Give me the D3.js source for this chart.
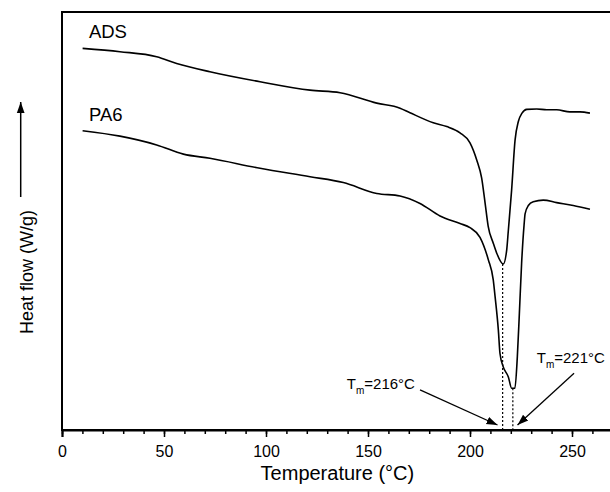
<!DOCTYPE html>
<html>
<head>
<meta charset="utf-8">
<script src="https://cdn.jsdelivr.net/npm/d3@7"></script>
<style>
  body { margin: 0; background: #fff; }
  text { font-family: "Liberation Sans", Arial, sans-serif; fill: #000; }
</style>
</head>
<body>
<script>
// temperature (°C) and heat flow (arbitrary units, shifted)
const adsTemp = [10.1, 28.4, 46.4, 56.2, 72.5, 97.1, 121.6, 136.3, 154.3, 165.7, 170.6, 182, 188.6, 195.1, 200, 203.3, 205.7, 207.4, 208.9, 211.4, 213.1, 216.3, 218, 218.8, 220.4, 222.1, 223.7, 225.5, 227.8, 232.7, 237.6, 242.5, 249, 253.9, 258.8];
const adsFlow = [9.13, 9.05, 8.93, 8.77, 8.57, 8.33, 8.13, 8.07, 7.82, 7.70, 7.59, 7.35, 7.26, 7.11, 6.87, 6.46, 6.03, 5.43, 4.88, 4.47, 4.23, 3.97, 4.31, 4.78, 5.74, 6.94, 7.38, 7.58, 7.67, 7.68, 7.66, 7.66, 7.61, 7.61, 7.58];

const pa6Temp = [10.1, 28.4, 46.4, 59.5, 72.5, 97.1, 121.6, 137.9, 154.3, 165.7, 175.5, 185.3, 195.1, 200, 204.9, 209, 211.4, 212.3, 213.9, 214.7, 216.3, 218.8, 220.4, 222, 223.2, 224.2, 225.3, 226.5, 227, 228.6, 231, 235.9, 242.5, 250.6, 258.8];
const pa6Flow = [7.16, 7.03, 6.82, 6.60, 6.50, 6.26, 6.06, 5.92, 5.66, 5.60, 5.42, 5.12, 4.94, 4.84, 4.61, 4.07, 3.59, 3.19, 2.39, 1.83, 1.51, 1.27, 1.00, 1.00, 1.75, 2.79, 3.99, 4.90, 5.17, 5.37, 5.46, 5.50, 5.44, 5.37, 5.28];

const seriesNames = ["ADS", "PA6"];
const meltTemps = [216, 221];
const meltFlow = [3.97, 1.00];
const majorTicks = [0, 50, 100, 150, 200, 250];
const minorTicks = d3.range(0, 271, 10);

const width = 610, height = 492;
const margin = {top: 12, right: 0, bottom: 62, left: 62};

const svg = d3.select("body").append("svg")
    .attr("width", width)
    .attr("height", height);

const x = d3.scaleLinear().domain([0, 270]).range([margin.left, margin.left + 270 * 2.04]);
const y = d3.scaleLinear().domain([0, 10]).range([height - margin.bottom, margin.top]);

// frame
svg.append("rect")
    .attr("x", x(0)).attr("y", y(10))
    .attr("width", x(270) - x(0)).attr("height", y(0) - y(10))
    .attr("fill", "none").attr("stroke", "#000").attr("stroke-width", 2);

// minor ticks
svg.append("g")
    .attr("transform", `translate(0,${y(0)})`)
    .call(d3.axisBottom(x).tickValues(minorTicks).tickSize(4).tickFormat(""))
    .call(g => g.select(".domain").remove())
    .call(g => g.selectAll("line").attr("stroke-width", 1.5));

// major ticks
svg.append("g")
    .attr("transform", `translate(0,${y(0)})`)
    .call(d3.axisBottom(x).tickValues(majorTicks).tickSize(7).tickPadding(9))
    .call(g => g.select(".domain").attr("stroke-width", 2))
    .call(g => g.selectAll("line").attr("stroke-width", 1.5))
    .call(g => g.selectAll("text")
        .attr("font-size", 16)
        .attr("font-family", "Liberation Sans, Arial, sans-serif"));

// axis titles
svg.append("text")
    .attr("x", (x(0) + x(270)) / 2)
    .attr("y", 480)
    .attr("text-anchor", "middle")
    .attr("font-size", 20)
    .text("Temperature (°C)");

svg.append("text")
    .attr("transform", "translate(33,272) rotate(-90)")
    .attr("text-anchor", "middle")
    .attr("font-size", 18)
    .text("Heat flow (W/g)");

const defs = svg.append("defs");
defs.append("marker")
    .attr("id", "head")
    .attr("viewBox", "0 0 10 10")
    .attr("refX", 10).attr("refY", 5)
    .attr("markerWidth", 11).attr("markerHeight", 11)
    .attr("markerUnits", "userSpaceOnUse")
    .attr("orient", "auto")
    .append("path")
    .attr("d", "M0,1.5 L10,5 L0,8.5 Z")
    .attr("fill", "#000");

// endo-up arrow next to the y title
svg.append("line")
    .attr("x1", 20.7).attr("y1", 197)
    .attr("x2", 20.7).attr("y2", 102)
    .attr("stroke", "#000").attr("stroke-width", 1.5)
    .attr("marker-end", "url(#head)");

// curves
const line = d3.line()
    .x(d => x(d[0]))
    .y(d => y(d[1]))
    .curve(d3.curveMonotoneX);

const curves = [
    d3.zip(adsTemp, adsFlow),
    d3.zip(pa6Temp, pa6Flow)
];

svg.selectAll("path.curve")
    .data(curves)
    .enter().append("path")
    .attr("class", "curve")
    .attr("d", line)
    .attr("fill", "none")
    .attr("stroke", "#000")
    .attr("stroke-width", 1.6);

// curve labels
svg.selectAll("text.name")
    .data(seriesNames)
    .enter().append("text")
    .attr("class", "name")
    .attr("x", x(13.2))
    .attr("y", (d, i) => y(curves[i][0][1]) - 10)
    .attr("font-size", 18.5)
    .text(d => d);

// dotted drop lines at the melting peaks
svg.selectAll("line.drop")
    .data(meltTemps)
    .enter().append("line")
    .attr("class", "drop")
    .attr("x1", d => x(d)).attr("x2", d => x(d))
    .attr("y1", (d, i) => y(meltFlow[i]))
    .attr("y2", y(0))
    .attr("stroke", "#000")
    .attr("stroke-width", 1.2)
    .attr("stroke-dasharray", "2,2");

// annotations: text anchor, arrow start and tip in data units
const notes = [
    {tm: 216, tx: 173, ty: 0.98, anchor: "end", ax: 175.5, ay: 0.96, bx: 213.5, by: 0.12},
    {tm: 221, tx: 232.7, ty: 1.60, anchor: "start", ax: 251, ay: 1.36, bx: 223.3, by: 0.12}
];

notes.forEach(n => {
    const t = svg.append("text")
        .attr("x", x(n.tx)).attr("y", y(n.ty))
        .attr("text-anchor", n.anchor)
        .attr("font-size", 15);
    t.append("tspan").text("T");
    t.append("tspan").attr("font-size", 10).attr("dy", 5).text("m");
    t.append("tspan").attr("dy", -5).text(`=${n.tm}°C`);

    svg.append("line")
        .attr("x1", x(n.ax)).attr("y1", y(n.ay))
        .attr("x2", x(n.bx)).attr("y2", y(n.by))
        .attr("stroke", "#000").attr("stroke-width", 1.3)
        .attr("marker-end", "url(#head)");
});
</script>
</body>
</html>
